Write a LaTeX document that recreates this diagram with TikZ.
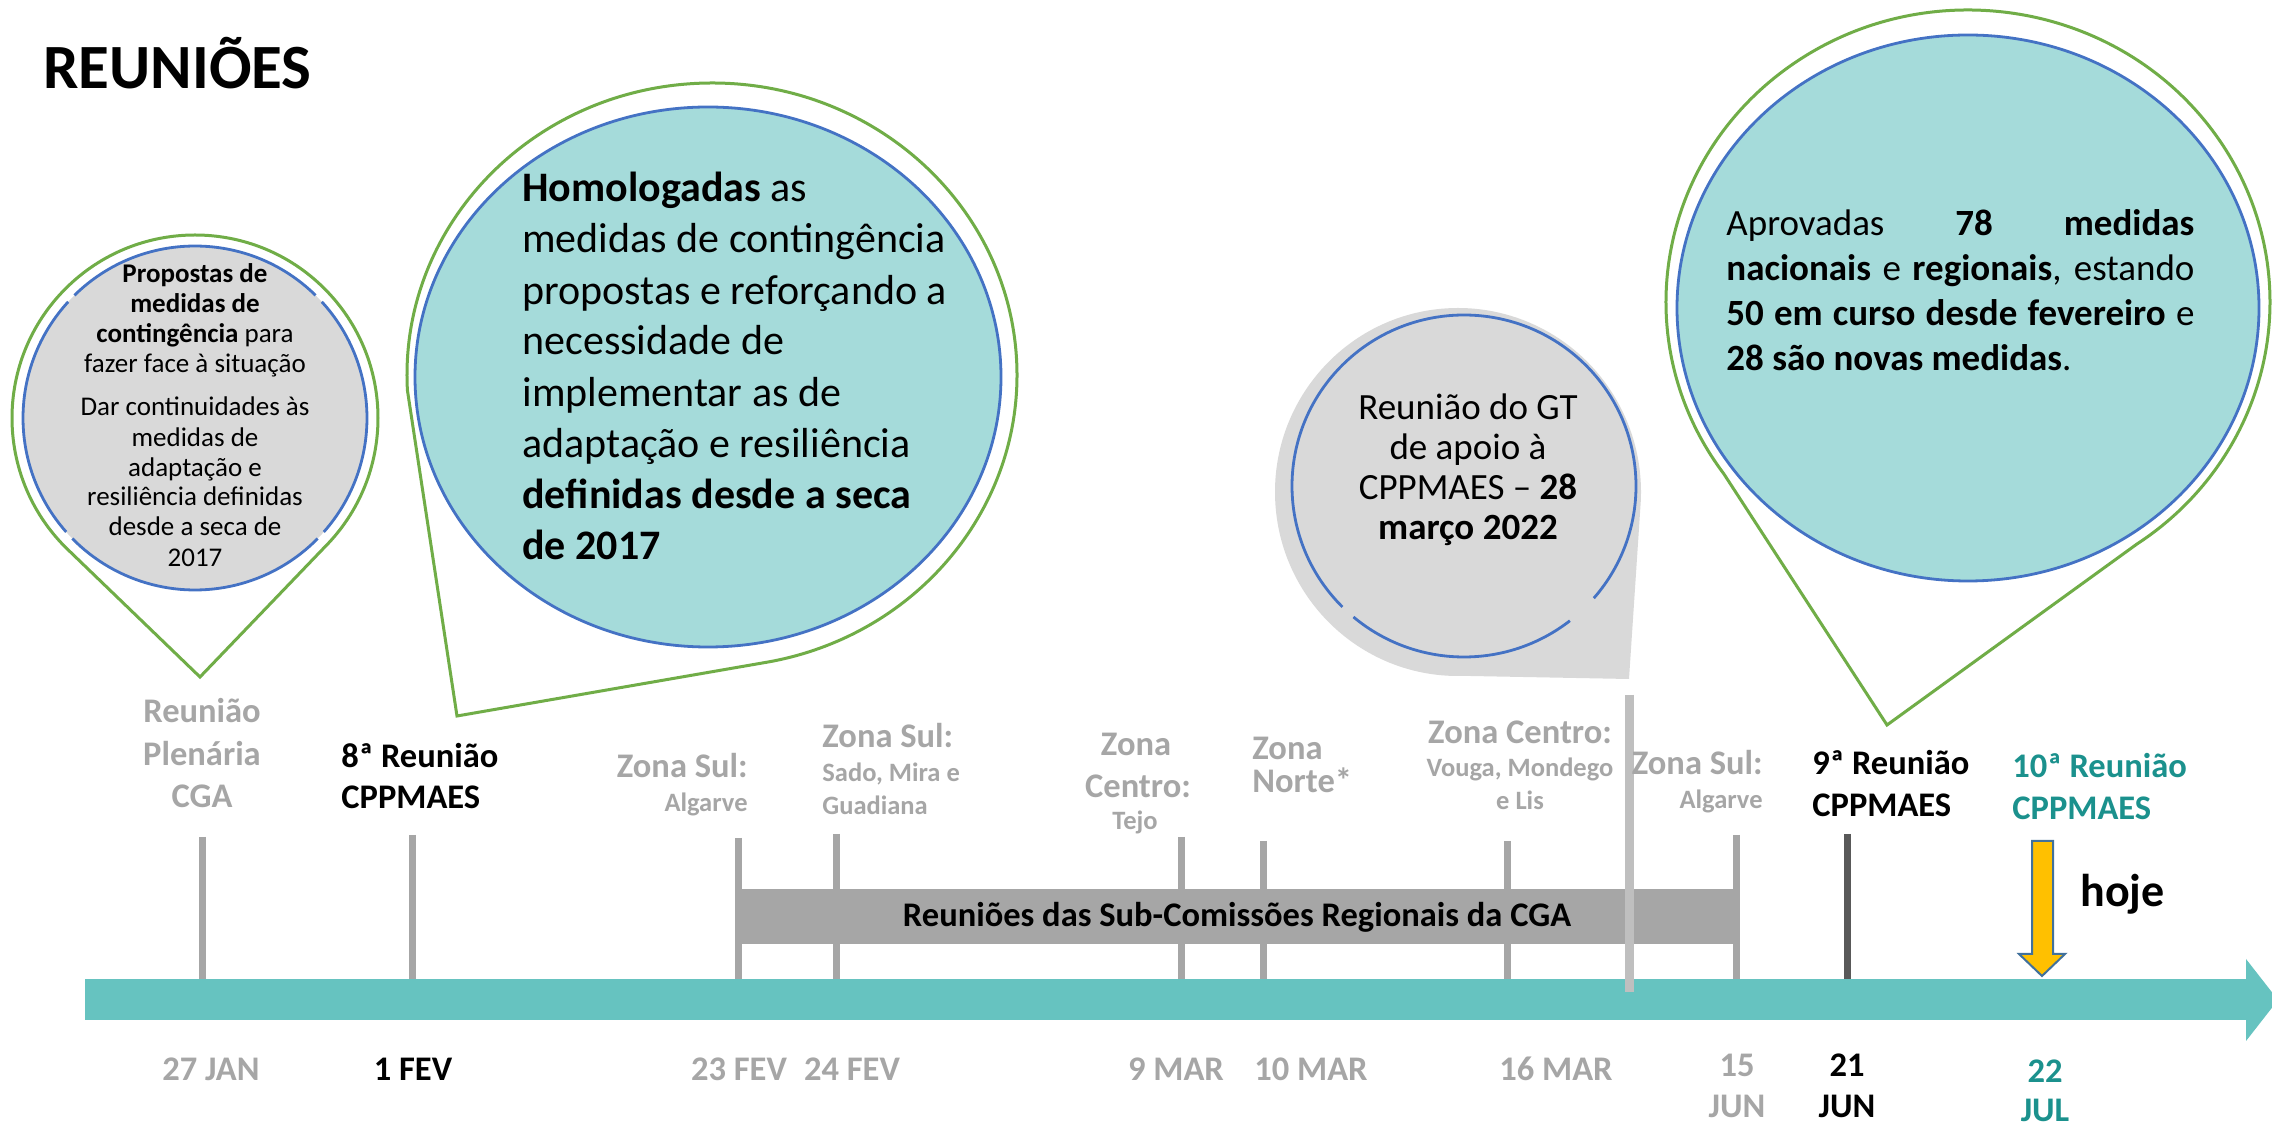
\documentclass[tikz,border=0pt]{standalone}
\usepackage{fontspec}
\setmainfont{Carlito}
\definecolor{labgray}{HTML}{A6A6A6}
\definecolor{midgray}{HTML}{A6A6A6}
\definecolor{tallgray}{HTML}{BFBFBF}
\definecolor{darkg}{HTML}{595959}
\definecolor{tealband}{HTML}{66C3C0}
\definecolor{tealtext}{HTML}{1B918D}
\definecolor{tealfill}{HTML}{A5DBDA}
\definecolor{lgrayfill}{HTML}{D9D9D9}
\definecolor{bluel}{HTML}{4472C4}
\definecolor{greenl}{HTML}{70AD47}
\definecolor{yel}{HTML}{FFC000}
\definecolor{arrline}{HTML}{41719C}
\begin{document}
\begin{tikzpicture}[x=0.5pt,y=-0.5pt,
  greenline/.style={draw=greenl, line width=1.5pt},
  blueline/.style={draw=bluel, line width=1.4pt},
  tickline/.style={draw=midgray, line width=3.5pt},
  lab/.style={inner sep=0pt, font=\fontsize{17.25}{20}\selectfont\bfseries},
  glab/.style={lab, text=labgray},
  slab/.style={inner sep=0pt, font=\fontsize{13.25}{15}\selectfont\bfseries, text=labgray},
  bone/.style={inner sep=0pt, font=\fontsize{13.5}{15}\selectfont, anchor=base},
  btwo/.style={inner sep=0pt, font=\fontsize{21}{25}\selectfont, anchor=base west},
  bthree/.style={inner sep=0pt, font=\fontsize{18.5}{22}\selectfont, anchor=base},
  bfour/.style={inner sep=0pt, font=\fontsize{18.5}{22}\selectfont, anchor=base west},
]
\useasboundingbox (0,0) rectangle (2272,1127);
\fill[white] (0,0) rectangle (2272,1127);

% title
\node[inner sep=0pt, font=\fontsize{31.5}{36}\selectfont\bfseries, anchor=base west] (title) at (43,89) {REUNIÕES};

% ---------- bubble 1 ----------
\draw[greenline] (200,677) -- ([shift={(135:183)}]195,418) arc[start angle=135,end angle=405,radius=183] -- cycle;
\fill[lgrayfill] (195,418) circle[radius=172];
\draw[blueline] ([shift={(44.5:172)}]195,418) arc[start angle=44.5,end angle=135.5,radius=172];
\draw[blueline] ([shift={(138.5:172)}]195,418) arc[start angle=138.5,end angle=222.5,radius=172];
\draw[blueline] ([shift={(225.5:172)}]195,418) arc[start angle=225.5,end angle=314.5,radius=172];
\draw[blueline] ([shift={(317.5:172)}]195,418) arc[start angle=317.5,end angle=401.5,radius=172];
\node[bone] (p1) at (195,283) {\bfseries Propostas de};
\node[bone] (p2) at (195,313) {\bfseries medidas de};
\node[bone] (p3) at (195,343) {\textbf{contingência} para};
\node[bone] (p4) at (195,373) {fazer face à situação};
\node[bone] (p5) at (195,416) {Dar continuidades às};
\node[bone] (p6) at (195,447) {medidas de};
\node[bone] (p7) at (195,477) {adaptação e};
\node[bone] (p8) at (195,506) {resiliência definidas};
\node[bone] (p9) at (195,536) {desde a seca de};
\node[bone] (p10) at (195,567) {2017};

% ---------- bubble 2 ----------
\draw[greenline] (457,716) -- ([shift={(177:305 and 292)}]712,375) arc[start angle=177,end angle=439.6,x radius=305,y radius=292] -- cycle;
\filldraw[fill=tealfill, blueline] (708,377) ellipse[x radius=293, y radius=270];
\node[btwo] (h1) at (522,202) {\textbf{Homologadas} as};
\node[btwo] (h2) at (522,253) {medidas de contingência};
\node[btwo] (h3) at (522,305) {propostas e reforçando a};
\node[btwo] (h4) at (522,355) {necessidade de};
\node[btwo] (h5) at (522,407) {implementar as de};
\node[btwo] (h6) at (522,458) {adaptação e resiliência};
\node[btwo] (h7) at (522,509) {\textbf{definidas desde a seca}};
\node[btwo] (h8) at (522,560) {\textbf{de 2017}};

% ---------- bubble 3 ----------
\fill[lgrayfill] (1629,679) -- ([shift={(88:183 and 184)}]1458,492) arc[start angle=88,end angle=363,x radius=183,y radius=184] -- cycle;
\draw[blueline] ([shift={(52:172 and 171)}]1464,486) arc[start angle=52,end angle=130,x radius=172,y radius=171];
\draw[blueline] ([shift={(135:172 and 171)}]1464,486) arc[start angle=135,end angle=401,x radius=172,y radius=171];
\node[bthree] (g1) at (1468,420) {Reunião do GT};
\node[bthree] (g2) at (1468,460) {de apoio à};
\node[bthree] (g3) at (1468,500) {CPPMAES – \textbf{28}};
\node[bthree] (g4) at (1468,540) {\textbf{março 2022}};

% ---------- bubble 4 ----------
\draw[greenline] (1887,725) -- ([shift={(144:302 and 292)}]1968,302) arc[start angle=144,end angle=416,x radius=302,y radius=292] -- cycle;
\filldraw[fill=tealfill, blueline] (1968,308) ellipse[x radius=291, y radius=273];
\node[bfour] (a1) at (1726,236) {\makebox[234pt][s]{Aprovadas \textbf{78} \textbf{medidas}}};
\node[bfour] (a2) at (1726,281) {\makebox[234pt][s]{\textbf{nacionais} e \textbf{regionais}, estando}};
\node[bfour] (a3) at (1726,326) {\makebox[234pt][s]{\textbf{50 em curso desde fevereiro} e}};
\node[bfour] (a4) at (1726,371) {\textbf{28 são novas medidas}.};

% ---------- ticks ----------
\draw[tickline] (202,837) -- (202,982);
\draw[tickline] (412,835) -- (412,982);
\draw[tickline] (738,838) -- (738,982);
\draw[tickline] (836,834) -- (836,982);
\draw[tickline] (1181,837) -- (1181,982);
\draw[tickline] (1263,841) -- (1263,982);
\draw[tickline] (1507,841) -- (1507,982);
\draw[tickline] (1736,835) -- (1736,982);
\draw[tickline, draw=darkg] (1847,834) -- (1847,982);

% bar
\fill[midgray] (735,889) rectangle (1739,944);
\node[lab, anchor=base] (bartxt) at (1237,927) {Reuniões das Sub-Comissões Regionais da CGA};

% band arrow
\fill[tealband] (85,979) rectangle (2247,1020);
\fill[tealband] (2246,959) -- (2278,1000) -- (2246,1041) -- cycle;

% tall line
\draw[draw=tallgray, line width=4.5pt] (1629,695) -- (1629,992);

% today arrow
\filldraw[fill=yel, draw=arrline, line width=1pt, line join=miter] (2032,841) -- (2053,841) -- (2053,954) -- (2065,954) -- (2042,976) -- (2019,954) -- (2032,954) -- cycle;

% ---------- labels ----------
\node[glab, anchor=base] (l1a) at (202,723) {Reunião};
\node[glab, anchor=base] (l1b) at (202,766) {Plenária};
\node[glab, anchor=base] (l1c) at (202,808) {CGA};
\node[lab, anchor=base west] (l2a) at (341,768) {8ª Reunião};
\node[lab, anchor=base west] (l2b) at (341,809) {CPPMAES};
\node[glab, anchor=base east] (l3a) at (748,778) {Zona Sul:};
\node[slab, anchor=base east] (l3b) at (748,812) {Algarve};
\node[glab, anchor=base west] (l4a) at (822,748) {Zona Sul:};
\node[slab, anchor=base west] (l4b) at (822,782) {Sado, Mira e};
\node[slab, anchor=base west] (l4c) at (822,815) {Guadiana};
\node[glab, anchor=base] (l5a) at (1136,756) {Zona};
\node[glab, anchor=base] (l5b) at (1138,798) {Centro:};
\node[slab, anchor=base] (l5c) at (1135,830) {Tejo};
\node[glab, anchor=base west] (l6a) at (1252,760) {Zona};
\node[glab, anchor=base west] (l6b) at (1252,793) {Norte*};
\node[glab, anchor=base] (l7a) at (1520,744) {Zona Centro:};
\node[slab, anchor=base] (l7b) at (1520,777) {Vouga, Mondego};
\node[slab, anchor=base] (l7c) at (1520,810) {e Lis};
\node[glab, anchor=base east] (l8a) at (1763,775) {Zona Sul:};
\node[slab, anchor=base east] (l8b) at (1763,809) {Algarve};
\node[lab, anchor=base west] (l9a) at (1812,775) {9ª Reunião};
\node[lab, anchor=base west] (l9b) at (1812,817) {CPPMAES};
\node[lab, text=tealtext, anchor=base west] (l10a) at (2012,778) {10ª Reunião};
\node[lab, text=tealtext, anchor=base west] (l10b) at (2012,820) {CPPMAES};
\node[inner sep=0pt, font=\fontsize{23}{27}\selectfont\bfseries, anchor=base west] (hoje) at (2080,907) {hoje};

% ---------- dates ----------
\node[glab, anchor=base] (d1) at (211,1080) {27 JAN};
\node[lab, anchor=base] (d2) at (413,1080) {1 FEV};
\node[glab, anchor=base] (d3) at (739,1080) {23 FEV};
\node[glab, anchor=base] (d4) at (852,1080) {24 FEV};
\node[glab, anchor=base] (d5) at (1176,1080) {9 MAR};
\node[glab, anchor=base] (d6) at (1311,1080) {10 MAR};
\node[glab, anchor=base] (d7) at (1556,1080) {16 MAR};
\node[glab, anchor=base] (d8a) at (1737,1077) {15};
\node[glab, anchor=base] (d8b) at (1737,1117) {JUN};
\node[lab, anchor=base] (d9a) at (1847,1077) {21};
\node[lab, anchor=base] (d9b) at (1847,1117) {JUN};
\node[lab, text=tealtext, anchor=base] (d10a) at (2045,1082) {22};
\node[lab, text=tealtext, anchor=base] (d10b) at (2045,1122) {JUL};
\end{tikzpicture}
\end{document}
